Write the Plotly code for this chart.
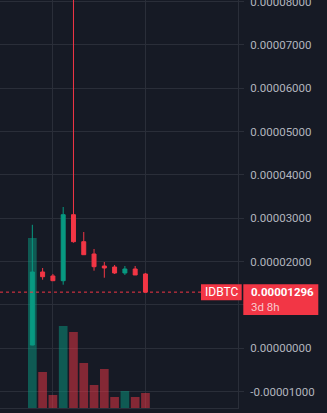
import plotly.graph_objects as go

# ---- data ----
candle_idx = list(range(12))
opens  = [0.076e-5, 1.761e-5, 1.669e-5, 1.560e-5, 3.083e-5, 2.460e-5, 2.176e-5, 1.899e-5, 1.876e-5, 1.738e-5, 1.830e-5, 1.715e-5]
highs  = [2.850e-5, 1.853e-5, 1.715e-5, 3.261e-5, 12.00e-5, 2.684e-5, 2.292e-5, 1.992e-5, 1.922e-5, 1.899e-5, 1.899e-5, 1.738e-5]
lows   = [0.070e-5, 1.583e-5, 1.560e-5, 1.468e-5, 2.437e-5, 2.160e-5, 1.791e-5, 1.629e-5, 1.715e-5, 1.692e-5, 1.692e-5, 1.296e-5]
closes = [1.760e-5, 1.652e-5, 1.560e-5, 3.083e-5, 2.460e-5, 2.160e-5, 1.883e-5, 1.853e-5, 1.738e-5, 1.830e-5, 1.692e-5, 1.296e-5]
volumes = [17.0, 3.6, 1.3, 8.2, 7.6, 4.5, 2.3, 3.9, 1.1, 1.7, 1.1, 1.5]

price_ticks = [-1e-5, 0, 1e-5, 2e-5, 3e-5, 4e-5, 5e-5, 6e-5, 7e-5, 8e-5]
price_labels = ["-0.00001000", "0.00000000", "0.00001000", "0.00002000", "0.00003000",
                "0.00004000", "0.00005000", "0.00006000", "0.00007000", "0.00008000"]
symbol = "IDBTC"
last_price = 1.296e-5
last_price_label = "0.00001296"
countdown = "3d 8h"
time_grid = [2, 11]

# ---- styling ----
BG = "#161a25"
GRID = "#2a2e39"
UP = "#089981"
DOWN = "#f23645"
UP_VOL = "rgba(8,153,129,0.5)"
DOWN_VOL = "rgba(242,54,69,0.5)"
TXT = "#b2b5be"
FONT = "Roboto"

vol_colors = [UP_VOL if c >= o else DOWN_VOL for o, c in zip(opens, closes)]

fig = go.Figure()
fig.add_trace(go.Bar(x=candle_idx, y=volumes, marker=dict(color=vol_colors, line=dict(width=0)),
                     yaxis="y", xaxis="x", showlegend=False, hoverinfo="skip"))
fig.add_trace(go.Candlestick(
    x=candle_idx, open=opens, high=highs, low=lows, close=closes,
    yaxis="y2", xaxis="x",
    increasing=dict(line=dict(color=UP, width=1), fillcolor=UP),
    decreasing=dict(line=dict(color=DOWN, width=1), fillcolor=DOWN),
    whiskerwidth=0, showlegend=False,
))

# last price dotted line
fig.add_shape(type="line", xref="x domain", yref="y2", x0=0, x1=1, y0=last_price, y1=last_price,
              line=dict(color=DOWN, width=1, dash="dot"))

PW = 238.0   # plot width px
PH = 408.0   # plot height px
def px_x(p): return p / PW
def px_y(p): return (PH - p) / PH

# label boxes
fig.add_shape(type="rect", xref="paper", yref="paper", x0=px_x(201), x1=px_x(241.7),
              y0=px_y(300.3), y1=px_y(284.3), fillcolor=DOWN, line=dict(width=0), layer="above")
fig.add_shape(type="rect", xref="paper", yref="paper", x0=px_x(243.3), x1=px_x(318.3),
              y0=px_y(315), y1=px_y(284.3), fillcolor=DOWN, line=dict(width=0), layer="above")

fig.add_annotation(xref="paper", yref="paper", x=px_x(221.4), y=px_y(292.3), text=symbol,
                   showarrow=False, xanchor="center", yanchor="middle", borderpad=0, borderwidth=0,
                   font=dict(family=FONT, size=12, color="#ffffff"))
fig.add_annotation(xref="paper", yref="paper", x=px_x(251), y=px_y(292.3), text="<b>" + last_price_label + "</b>",
                   showarrow=False, xanchor="left", yanchor="middle", borderpad=0, borderwidth=0,
                   font=dict(family=FONT, size=11.5, color="#ffffff"))
fig.add_annotation(xref="paper", yref="paper", x=px_x(251), y=px_y(306.5), text=countdown,
                   showarrow=False, xanchor="left", yanchor="middle", borderpad=0, borderwidth=0,
                   font=dict(family=FONT, size=11.5, color="#f9c9cd"))

fig.update_layout(
    width=327, height=413,
    margin=dict(l=0, r=89, t=0, b=5, autoexpand=False),
    paper_bgcolor=BG, plot_bgcolor=BG,
    boxgap=0.45, bargap=0.154,
    showlegend=False,
    font=dict(family=FONT, size=11.5, color=TXT),
    xaxis=dict(range=[-3.145, 20.0], tickvals=time_grid, showticklabels=False, showgrid=True,
               gridcolor=GRID, gridwidth=1, zeroline=False, showline=True, linecolor=GRID,
               linewidth=1, rangeslider=dict(visible=False), fixedrange=True, automargin=False),
    yaxis=dict(range=[0, 40.8], visible=False, showgrid=False, zeroline=False, fixedrange=True,
               automargin=False),
    yaxis2=dict(overlaying="y", side="right", range=[-1.378e-5, 8.038e-5],
                tickvals=price_ticks, ticktext=price_labels, showgrid=True, gridcolor=GRID,
                gridwidth=1, zeroline=False, showline=True, linecolor=GRID, linewidth=1,
                ticks="outside", ticklen=5, tickcolor=GRID, ticklabelstandoff=4,
                ticklabeloverflow="allow", automargin=False,
                tickfont=dict(family=FONT, size=11.5, color=TXT), fixedrange=True),
)

fig.write_html("out.html")
